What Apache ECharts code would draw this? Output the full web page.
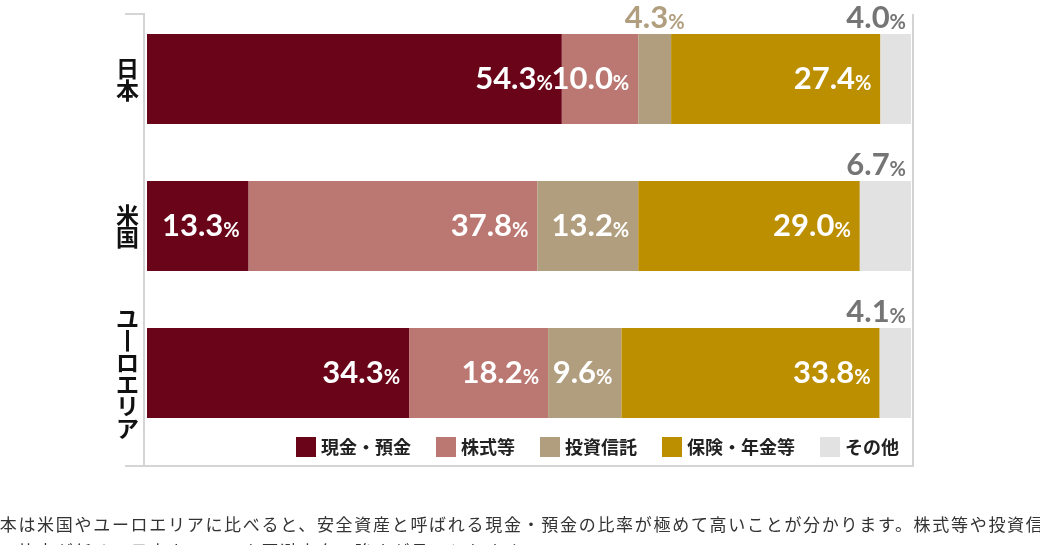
<!DOCTYPE html>
<html>
<head>
<meta charset="utf-8">
<script src="https://cdn.jsdelivr.net/npm/echarts@6/dist/echarts.min.js"></script>
<style>
html, body { margin: 0; padding: 0; background: #fff; overflow: hidden; }
#main { width: 1040px; height: 545px; position: absolute; left: 0; top: 0; }
.note { position: absolute; left: -19px; width: 1200px; white-space: nowrap;
  font-family: "Noto Sans CJK JP", sans-serif; font-size: 17px; letter-spacing: 1.7px; color: #333; }
</style>
</head>
<body>
<div id="main"></div>
<div class="note" style="top:511px">日本は米国やユーロエリアに比べると、安全資産と呼ばれる現金・預金の比率が極めて高いことが分かります。株式等や投資信託</div>
<div class="note" style="top:538px">託の比率が低く、日本人のリスク回避志向の強さが見てとれます。</div>
<script>
// 家計の金融資産構成 日米欧比較
var regions = ['日本', '米国', 'ユーロエリア'];
var assetNames = ['現金・預金', '株式等', '投資信託', '保険・年金等', 'その他'];
var colors = ['#6a0519', '#bb7872', '#b19e7f', '#bb8f00', '#e2e2e2'];
var outsideColors = ['#6a0519', '#bb7872', '#b19e7f', '#bb8f00', '#757575'];

var cash = [54.3, 13.3, 34.3];
var stocks = [10.0, 37.8, 18.2];
var funds = [4.3, 13.2, 9.6];
var insurance = [27.4, 29.0, 33.8];
var others = [4.0, 6.7, 4.1];

var dom = document.getElementById('main');
var myChart = echarts.init(dom);

var rich = {
    v: { fontFamily: 'Lato', fontWeight: 'bold', fontSize: 31, lineHeight: 30, verticalAlign: 'bottom' },
    p: { fontFamily: 'Lato', fontWeight: 'bold', fontSize: 20, lineHeight: 22, verticalAlign: 'bottom' }
};

function fmt(p) {
    return '{v|' + p.value.toFixed(1) + '}{p|%}';
}

function buildSeries(idx, values) {
    var isOther = idx === 4;
    var data = values.map(function (v) {
        if (v >= 5 && !isOther) return v;
        // small segments get their label above the bar
        return {
            value: v,
            label: {
                position: isOther ? ['100%', 0] : ['50%', 0],
                align: isOther ? 'right' : 'center',
                verticalAlign: 'bottom',
                offset: isOther ? [-5, -1] : [0, -1],
                color: outsideColors[idx]
            }
        };
    });
    return {
        name: assetNames[idx],
        type: 'bar',
        stack: 'total',
        barWidth: 90,
        itemStyle: { color: colors[idx] },
        label: {
            show: true,
            position: 'insideRight',
            distance: 9,
            color: '#fff',
            formatter: fmt,
            rich: rich
        },
        emphasis: { disabled: true },
        data: data
    };
}

var lineStyle = { stroke: '#d4d4d4', lineWidth: 2 };

option = {
    backgroundColor: '#fff',
    animation: false,
    grid: { left: 147, right: 129, top: 5.5, bottom: 98.5 },
    xAxis: { type: 'value', min: 0, max: 100, show: false },
    yAxis: {
        type: 'category',
        inverse: true,
        data: regions,
        axisLine: { show: false },
        axisTick: { show: false },
        axisLabel: {
            margin: 8,
            color: '#111',
            fontFamily: 'Noto Sans CJK JP',
            fontWeight: 'bold',
            fontSize: 23,
            lineHeight: 22,
            formatter: function (s) {
                return s.replace('ー', '丨').split('').join('\n');
            }
        }
    },
    legend: {
        left: 296,
        top: 437,
        padding: 0,
        icon: 'rect',
        itemWidth: 20,
        itemHeight: 20,
        itemGap: 25,
        selectedMode: false,
        textStyle: { fontFamily: 'Noto Sans CJK JP', fontWeight: 'bold', fontSize: 18, color: '#222' },
        data: assetNames
    },
    graphic: [
        { type: 'line', shape: { x1: 125, y1: 14, x2: 145, y2: 14 }, style: lineStyle, silent: true },
        { type: 'line', shape: { x1: 144, y1: 14, x2: 144, y2: 466 }, style: lineStyle, silent: true },
        { type: 'line', shape: { x1: 125, y1: 466, x2: 914, y2: 466 }, style: lineStyle, silent: true },
        { type: 'line', shape: { x1: 913, y1: 14, x2: 913, y2: 466 }, style: lineStyle, silent: true }
    ],
    series: [
        buildSeries(0, cash),
        buildSeries(1, stocks),
        buildSeries(2, funds),
        buildSeries(3, insurance),
        buildSeries(4, others)
    ]
};

if (option && typeof option === 'object') {
    myChart.setOption(option, true);
}
</script>
</body>
</html>
